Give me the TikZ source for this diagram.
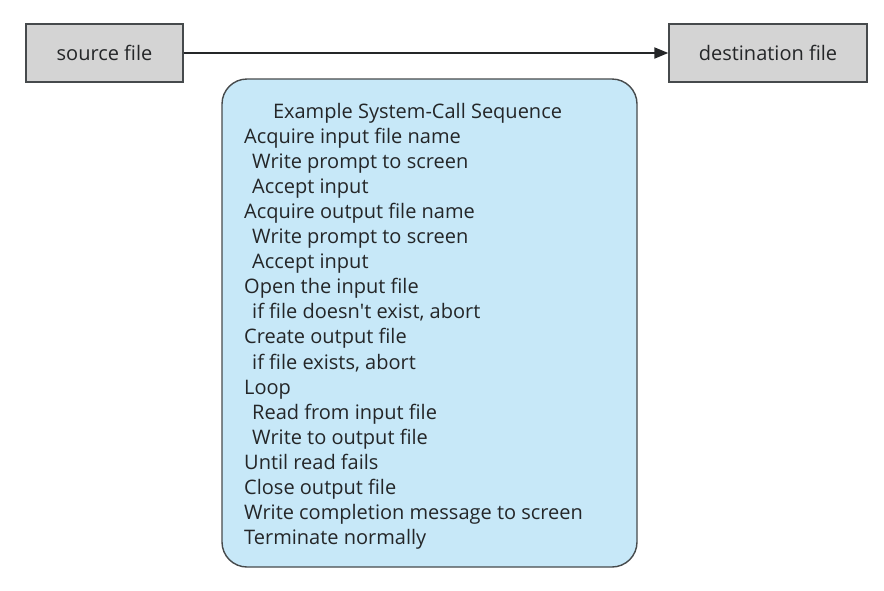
\documentclass[tikz,border=0pt]{standalone}
\usepackage{fontspec}
\setmainfont{Open Sans}
\usetikzlibrary{arrows.meta}
\definecolor{boxgray}{RGB}{212,212,212}
\definecolor{seqblue}{RGB}{199,232,248}
\definecolor{edgegray}{RGB}{70,74,76}
\definecolor{inkgray}{RGB}{36,38,40}
\begin{document}
\begin{tikzpicture}[x=1pt,y=-1pt,
  filebox/.style={draw=edgegray,line width=1.4pt,fill=boxgray,minimum height=58pt,
    text=inkgray,font=\fontsize{20}{22}\selectfont},
  seqbox/.style={draw=edgegray,line width=1.4pt,fill=seqblue,rounded corners=25pt,
    minimum width=415pt,minimum height=488pt},
  seqline/.style={anchor=base west,inner sep=0pt,text=inkgray,font=\fontsize{20}{22}\selectfont}]
  \useasboundingbox (0,0) rectangle (884,590);
  \node [filebox,minimum width=157pt] (src) at (104.5,53) {source file};
  \node [filebox,minimum width=198pt] (dst) at (768,53) {destination file};
  \draw [draw=inkgray,line width=2pt,-{Triangle[length=14pt,width=11pt]}] (src) -- (dst);
  \node [seqbox] (seq) at (429.5,323) {};
  \node [seqline,anchor=base] (title) at (417.5,118) {Example System-Call Sequence};
  \foreach \dx/\txt [count=\i] in {0/Acquire input file name, 8/Write prompt to screen,
      8/Accept input, 0/Acquire output file name, 8/Write prompt to screen, 8/Accept input,
      0/Open the input file, 8/{if file doesn\textquotesingle t exist, abort}, 0/Create output file,
      8/{if file exists, abort}, 0/Loop, 8/Read from input file, 8/Write to output file,
      0/Until read fails, 0/Close output file, 0/Write completion message to screen,
      0/Terminate normally}
    \node [seqline] (line\i) at (244+\dx,118+25.1*\i) {\txt};
\end{tikzpicture}
\end{document}
